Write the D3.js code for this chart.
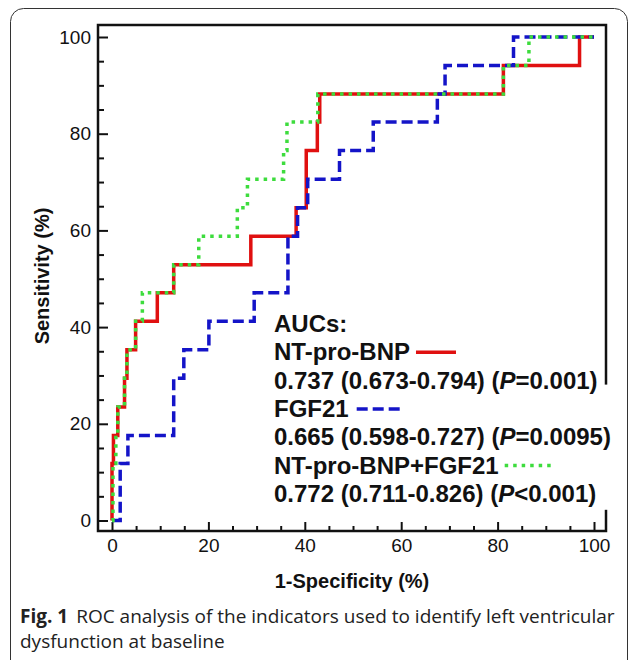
<!DOCTYPE html>
<html>
<head>
<meta charset="utf-8">
<script src="https://cdn.jsdelivr.net/npm/d3@7"></script>
<style>
  body { margin: 0; background: #fff; }
  svg { display: block; }
</style>
</head>
<body>
<div id="chart"></div>
<script>
// ROC curves: tops of each vertical step (1-specificity %, sensitivity %)
const ntFpr = [0, 0, 0.3, 1.2, 2.6, 3.1, 4.9, 9.4, 12.8, 28.8, 38.2, 40.3, 42.6, 43.1, 81.2, 97.0, 100];
const ntTpr = [0, 11.8, 17.6, 23.5, 29.4, 35.3, 41.2, 47.1, 52.9, 58.8, 64.7, 76.5, 82.4, 88.2, 94.1, 100, 100];

const fgFpr = [0, 1.7, 3.3, 12.8, 14.9, 20.1, 29.5, 36.5, 38.5, 40.6, 47.2, 54.2, 67.5, 69.1, 83.3, 100];
const fgTpr = [0, 11.8, 17.6, 29.4, 35.3, 41.2, 47.1, 58.8, 64.7, 70.6, 76.5, 82.4, 88.2, 94.1, 100, 100];

const combFpr = [0, 0.2, 0.8, 1.2, 2.6, 3.1, 4.9, 6.3, 12.8, 18.0, 26.0, 28.1, 35.6, 36.3, 42.7, 81.2, 86.5, 100];
const combTpr = [0, 11.8, 17.6, 23.5, 29.4, 35.3, 41.2, 47.1, 52.9, 58.8, 64.7, 70.6, 76.5, 82.4, 88.2, 94.1, 100, 100];

const majorTicks = [0, 20, 40, 60, 80, 100];
const minorTicks = d3.range(0, 101, 5).filter((v) => v % 20 !== 0);

const legendLines = [
  'AUCs:',
  'NT-pro-BNP',
  '0.737 (0.673-0.794) (P=0.001)',
  'FGF21',
  '0.665 (0.598-0.727) (P=0.0095)',
  'NT-pro-BNP+FGF21',
  '0.772 (0.711-0.826) (P<0.001)',
];

const width = 629;
const height = 660;
const frame = { left: 98, right: 606, top: 25, bottom: 531 };
const font = '"Liberation Sans", Arial, sans-serif';

const svg = d3.select('#chart')
  .append('svg')
  .attr('width', width)
  .attr('height', height);

svg.append('rect')
  .attr('width', width)
  .attr('height', height)
  .attr('fill', '#fff');

// outer rounded border of the figure
svg.append('rect')
  .attr('x', 10.5)
  .attr('y', 8.5)
  .attr('width', 617)
  .attr('height', 680)
  .attr('rx', 13)
  .attr('fill', 'none')
  .attr('stroke', '#333')
  .attr('stroke-width', 1);

const xScale = d3.scaleLinear().domain([0, 100]).range([112, 594]);
const yScale = d3.scaleLinear().domain([0, 100]).range([520.5, 37]);

const plot = svg.append('g');

// axes: ticks point inwards from the frame
plot.append('g')
  .attr('transform', `translate(${frame.left},0)`)
  .call(d3.axisLeft(yScale).tickValues(majorTicks).tickSize(-10).tickPadding(7));
plot.append('g')
  .attr('transform', `translate(${frame.left},0)`)
  .call(d3.axisLeft(yScale).tickValues(minorTicks).tickSize(-6).tickFormat(''));

plot.append('g')
  .attr('transform', `translate(0,${frame.bottom})`)
  .call(d3.axisBottom(xScale).tickValues(majorTicks).tickSize(-9).tickPadding(8));
plot.append('g')
  .attr('transform', `translate(0,${frame.bottom})`)
  .call(d3.axisBottom(xScale).tickValues(minorTicks).tickSize(-5).tickFormat(''));

plot.selectAll('.domain').remove();
plot.selectAll('.tick line').attr('stroke', '#111').attr('stroke-width', 2);
plot.selectAll('.tick text')
  .attr('fill', '#111')
  .style('font-family', font)
  .style('font-size', '19px');

// curves
const line = d3.line()
  .x((d) => xScale(d[0]))
  .y((d) => yScale(d[1]))
  .curve(d3.curveStepAfter);

const series = [
  { fpr: ntFpr, tpr: ntTpr, color: '#e01010', dash: null },
  { fpr: fgFpr, tpr: fgTpr, color: '#1414c8', dash: '11,5' },
  { fpr: combFpr, tpr: combTpr, color: '#3ddc3d', dash: '3.5,5' },
];

series.forEach((s) => {
  plot.append('path')
    .datum(s.fpr.map((f, i) => [f, s.tpr[i]]))
    .attr('d', line)
    .attr('fill', 'none')
    .attr('stroke', s.color)
    .attr('stroke-width', 3.5)
    .attr('stroke-dasharray', s.dash);
});

// frame
plot.append('rect')
  .attr('x', frame.left)
  .attr('y', frame.top)
  .attr('width', frame.right - frame.left)
  .attr('height', frame.bottom - frame.top)
  .attr('fill', 'none')
  .attr('stroke', '#111')
  .attr('stroke-width', 2.5);

// axis titles
svg.append('text')
  .attr('x', 352)
  .attr('y', 588)
  .attr('text-anchor', 'middle')
  .style('font-family', font)
  .style('font-weight', 'bold')
  .style('font-size', '20px')
  .attr('fill', '#111')
  .text('1-Specificity (%)');

svg.append('text')
  .attr('transform', 'translate(49,276) rotate(-90)')
  .attr('text-anchor', 'middle')
  .style('font-family', font)
  .style('font-weight', 'bold')
  .style('font-size', '20px')
  .attr('fill', '#111')
  .text('Sensitivity (%)');

// legend block
const legend = svg.append('g').attr('transform', 'translate(274,332)');
const lineGap = 28.3;

// white box behind the lower legend rows (hides the frame where text overruns it)
legend.append('rect')
  .attr('x', -4)
  .attr('y', lineGap * 2 - 4)
  .attr('width', 352)
  .attr('height', lineGap * 4 + 12)
  .attr('fill', '#fff');

const rows = legendLines.map((txt, i) => {
  const t = legend.append('text')
    .attr('x', 0)
    .attr('y', i * lineGap)
    .style('font-family', font)
    .style('font-weight', 'bold')
    .style('font-size', '24px')
    .attr('fill', '#111');
  const m = txt.match(/^(.*\()P(.*)$/);
  if (m) {
    t.append('tspan').text(m[1]);
    t.append('tspan').style('font-style', 'italic').text('P');
    t.append('tspan').text(m[2]);
  } else {
    t.text(txt);
  }
  return t;
});

const samples = [
  { row: 1, gap: 6, len: 40, s: series[0] },
  { row: 3, gap: 8, len: 43, s: series[1] },
  { row: 5, gap: 6, len: 48, s: series[2] },
];
samples.forEach((d) => {
  const x0 = rows[d.row].node().getComputedTextLength() + d.gap;
  legend.append('line')
    .attr('x1', x0)
    .attr('x2', x0 + d.len)
    .attr('y1', d.row * lineGap - 8)
    .attr('y2', d.row * lineGap - 8)
    .attr('stroke', d.s.color)
    .attr('stroke-width', 3.5)
    .attr('stroke-dasharray', d.s.dash);
});

// caption
const cap1 = svg.append('text')
  .attr('x', 20)
  .attr('y', 623)
  .style('font-family', '"Open Sans", sans-serif')
  .style('font-size', '19px')
  .attr('fill', '#222');
cap1.append('tspan').style('font-weight', 'bold').text('Fig. 1');
cap1.append('tspan').attr('dx', 8).text('ROC analysis of the indicators used to identify left ventricular');

svg.append('text')
  .attr('x', 20)
  .attr('y', 648)
  .style('font-family', '"Open Sans", sans-serif')
  .style('font-size', '19px')
  .attr('fill', '#222')
  .text('dysfunction at baseline');
</script>
</body>
</html>
